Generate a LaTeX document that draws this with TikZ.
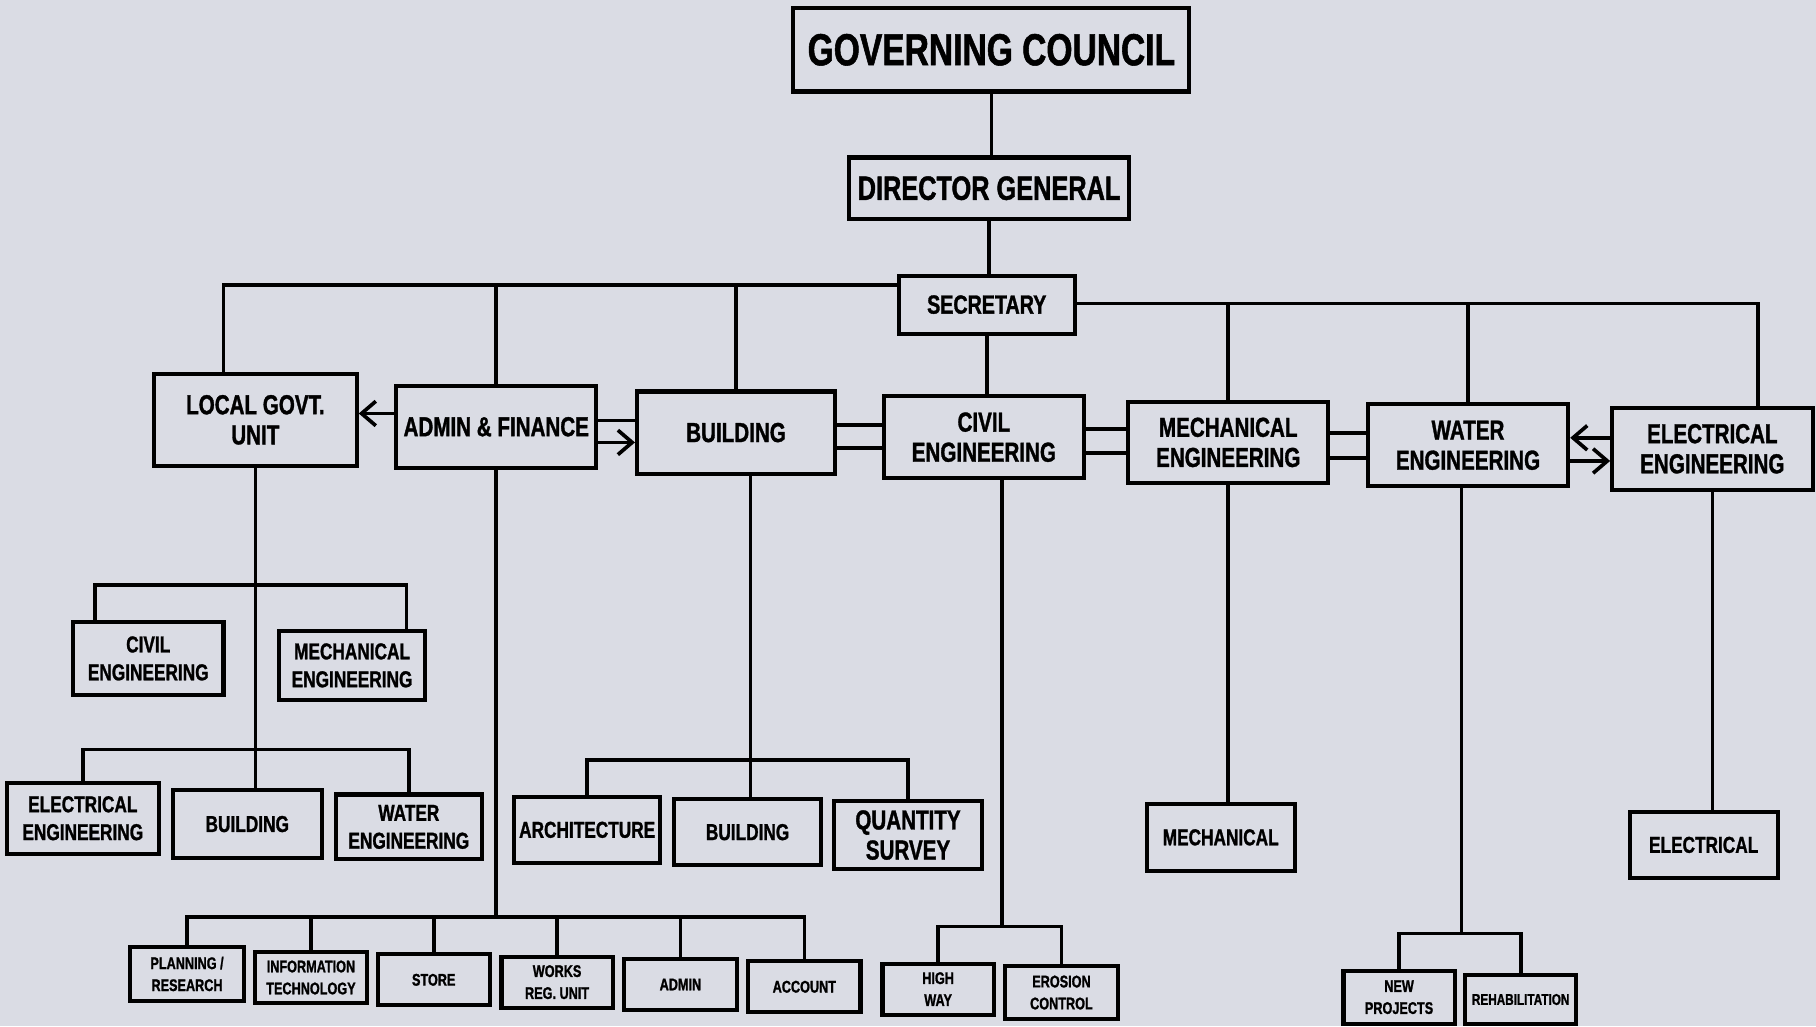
\documentclass[tikz,border=0pt]{standalone}
\usepackage{fontspec}
\newfontfamily\chartfont[FakeStretch=0.75, BoldFeatures={FakeBold=1.2}]{Liberation Sans}
\usetikzlibrary{arrows.meta,calc}
\definecolor{bg}{RGB}{218,220,228}
\begin{document}
\begin{tikzpicture}[x=0.02cm,y=-0.02cm,
  box/.style={draw=black, line width=2pt, inner sep=0pt, align=center, text=black},
  sz/.style 2 args={minimum width=#1*0.02cm, minimum height=#2*0.02cm},
  tGC/.style={font=\chartfont\bfseries\fontsize{22}{24}\selectfont},
  tDG/.style={font=\chartfont\bfseries\fontsize{16.6}{18}\selectfont},
  tSEC/.style={font=\chartfont\bfseries\fontsize{12.9}{14}\selectfont},
  tRB/.style={font=\chartfont\bfseries\fontsize{13.5}{14.8}\selectfont},
  tRC/.style={font=\chartfont\bfseries\fontsize{11.3}{13.7}\selectfont},
  tRD/.style={font=\chartfont\bfseries\fontsize{8.3}{10.8}\selectfont},
  ln/.style={line width=1.8pt, draw=black},
  arr/.style={line width=1.8pt, draw=black, -{Straight Barb[length=7pt,width=12pt]}}]
\fill[bg] (0,0) rectangle (1568,886);
\useasboundingbox (0,0) rectangle (1568,886);

% top
\node[box,tGC,sz={342}{72}] (gc) at (856,43) {GOVERNING COUNCIL};
\node[box,tDG,sz={242}{53}] (dg) at (854,162.5) {DIRECTOR GENERAL};
\node[box,tSEC,sz={152}{50}] (sec) at (852,263) {SECRETARY};

% row 2
\node[box,tRB,sz={175}{79}] (lgu) at (220.5,362.5) {LOCAL GOVT.\\UNIT};
\node[box,tRB,sz={173}{71}] (af) at (428.5,368.5) {ADMIN \& FINANCE};
\node[box,tRB,sz={171}{71}] (bld) at (635.5,373.5) {BUILDING};
\node[box,tRB,sz={173}{71}] (civ) at (849.5,377.5) {CIVIL\\ENGINEERING};
\node[box,tRB,sz={173}{70}] (mec) at (1060.5,382) {MECHANICAL\\ENGINEERING};
\node[box,tRB,sz={173}{71}] (wat) at (1267.5,384.5) {WATER\\ENGINEERING};
\node[box,tRB,sz={173}{71}] (ele) at (1478.5,387.5) {ELECTRICAL\\ENGINEERING};

% row 3
\node[box,tRC,sz={130}{63}] (civs) at (128,568.5) {CIVIL\\ENGINEERING};
\node[box,tRC,sz={126}{59}] (mecs) at (304,574.5) {MECHANICAL\\ENGINEERING};
\node[box,tRC,sz={131}{61}] (eles) at (71.5,706.5) {ELECTRICAL\\ENGINEERING};
\node[box,tRC,sz={129}{59}] (blds) at (213.5,711.5) {BUILDING};
\node[box,tRC,sz={126}{56}] (wats) at (353,714) {WATER\\ENGINEERING};
\node[box,tRC,sz={126}{57}] (arch) at (507,716.5) {ARCHITECTURE};
\node[box,tRC,sz={127}{57}] (bldb) at (645.5,718.5) {BUILDING};
\node[box,tRB,sz={128}{58}] (qs) at (784,721) {QUANTITY\\SURVEY};
\node[box,tRC,sz={128}{58}] (mech) at (1054,723) {MECHANICAL};
\node[box,tRC,sz={128}{57}] (elec) at (1471,729.5) {ELECTRICAL};

% bottom row
\node[box,tRD,sz={99}{46}] (pr) at (161.5,841) {PLANNING /\\RESEARCH};
\node[box,tRD,sz={97}{44}] (it) at (268.5,844) {INFORMATION\\TECHNOLOGY};
\node[box,tRD,sz={97}{44}] (st) at (374.5,846) {STORE};
\node[box,tRD,sz={96}{44}] (wru) at (481,848) {WORKS\\REG. UNIT};
\node[box,tRD,sz={97}{44}] (adm) at (587.5,850) {ADMIN};
\node[box,tRD,sz={97}{44}] (acc) at (694.5,852) {ACCOUNT};
\node[box,tRD,sz={96}{44}] (hw) at (810,854) {HIGH\\WAY};
\node[box,tRD,sz={97}{46}] (ec) at (916.5,857) {EROSION\\CONTROL};
\node[box,tRD,sz={96}{46}] (np) at (1208,861) {NEW\\PROJECTS};
\node[box,tRD,sz={96}{42},font=\chartfont\bfseries\fontsize{7.7}{9}\selectfont] (rh) at (1313,863) {REHABILITATION};

% top connectors
\draw[ln] (gc.south) -- (gc.south |- dg.north);
\draw[ln] (dg.south) -- (dg.south |- sec.north);
\coordinate (bL) at (193,246);
\coordinate (bR) at (1518,262);
\draw[ln] (bL |- lgu.north) -- (bL) -- (bL -| sec.west);
\draw[ln] (af.north) -- (af.north |- bL);
\draw[ln] (bld.north) -- (bld.north |- bL);
\draw[ln] (sec.south) -- (sec.south |- civ.north);
\draw[ln] (bR -| sec.east) -- (bR) -- (bR |- ele.north);
\draw[ln] (mec.north) -- (mec.north |- bR);
\draw[ln] (wat.north) -- (wat.north |- bR);

% row 2 links
\coordinate (p1) at ([yshift=0.23cm]af.west);
\draw[arr] (p1) -- (p1 -| lgu.east);
\coordinate (p2) at ([yshift=0.11cm]af.east);
\draw[ln] (p2) -- (p2 -| bld.west);
\coordinate (p3) at ([yshift=-0.27cm]af.east);
\draw[arr] (p3) -- (p3 -| bld.west);
\coordinate (p4) at ([yshift=0.13cm]bld.east);
\draw[ln] (p4) -- (p4 -| civ.west);
\coordinate (p5) at ([yshift=-0.27cm]bld.east);
\draw[ln] (p5) -- (p5 -| civ.west);
\coordinate (p6) at ([yshift=0.14cm]civ.east);
\draw[ln] (p6) -- (p6 -| mec.west);
\coordinate (p7) at ([yshift=-0.27cm]civ.east);
\draw[ln] (p7) -- (p7 -| mec.west);
\coordinate (p8) at ([yshift=0.16cm]mec.east);
\draw[ln] (p8) -- (p8 -| wat.west);
\coordinate (p9) at ([yshift=-0.27cm]mec.east);
\draw[ln] (p9) -- (p9 -| wat.west);
\coordinate (p10) at ([yshift=0.13cm]wat.east);
\draw[arr] (p10 -| ele.west) -- (p10);
\coordinate (p11) at ([yshift=-0.27cm]wat.east);
\draw[arr] (p11) -- (p11 -| ele.west);

% local govt subtree
\coordinate (yb) at (0,647);
\coordinate (c1) at (82,505);
\coordinate (c2) at (351,505);
\draw[ln] (lgu.south) -- (lgu.south |- blds.north);
\draw[ln] (c1 |- civs.north) -- (c1) -- (c2) -- (c2 |- mecs.north);
\draw[ln] (eles.north) |- (wats.north |- yb) -- (wats.north);

% admin subtree
\coordinate (yc) at (0,792);
\draw[ln] (af.south) -- (af.south |- yc);
\draw[ln] (pr.north) |- (acc.north |- yc) -- (acc.north);
\foreach \n in {it,st,wru,adm} \draw[ln] (\n.north) -- (\n.north |- yc);

% building subtree
\coordinate (bv) at (648,656);
\draw[ln] (bv |- bld.south) -- (bv |- bldb.north);
\draw[ln] (arch.north) |- (qs.north |- bv) -- (qs.north);

% civil subtree
\coordinate (cv) at (865,800);
\draw[ln] (cv |- civ.south) -- (cv);
\draw[ln] (hw.north) |- (ec.north |- cv) -- (ec.north);

% mechanical
\draw[ln] (mec.south) -- (mec.south |- mech.north);

% water subtree
\coordinate (wv) at (1262,806);
\draw[ln] (wv |- wat.south) -- (wv);
\draw[ln] (np.north) |- (rh.north |- wv) -- (rh.north);

% electrical
\draw[ln] (ele.south) -- (ele.south |- elec.north);
\end{tikzpicture}
\end{document}
